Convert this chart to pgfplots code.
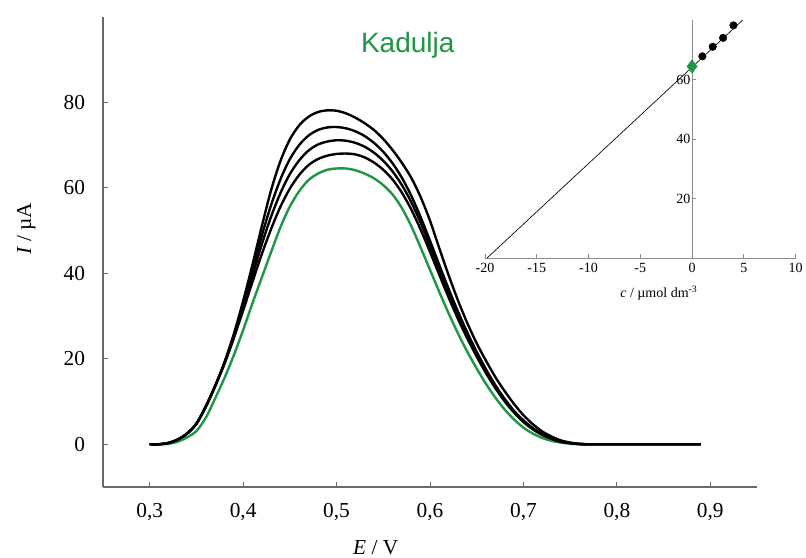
\documentclass[border=0pt]{standalone}
\usepackage{pgfplots}
\pgfplotsset{compat=1.18}
\usepackage{pgfplotstable}
\usepackage{fontspec}
\setmainfont{Liberation Serif}
\newfontfamily\arialfont{Liberation Sans}
\definecolor{kgreen}{RGB}{30,150,70}
\definecolor{axgray}{RGB}{105,105,105}
\definecolor{ingray}{RGB}{140,140,140}

% E / V, green curve (sample) and four additions
\pgfplotstableread{
E     G     B1    B2    B3    B4
0.30  0     0     0     0     0
0.31  0     0     0     0     0
0.32  0.1   0.3   0.3   0.3   0.3
0.33  0.6   1.1   1.1   1.1   1.1
0.34  1.6   2.5   2.5   2.5   2.5
0.35  3.1   4.8   4.8   4.8   4.8
0.36  6.2   8.8   8.8   8.8   8.8
0.37  10.7  13.6  13.6  13.6  13.6
0.38  15.5  18.9  18.9  19.0  19.2
0.39  20.8  24.9  24.9  25.2  25.8
0.40  26.7  31.3  32    32.7  33.5
0.41  33    38    39.5  40.8  42
0.42  39    44.5  46.8  48.8  51
0.43  45    50.4  53.3  56    59.5
0.44  50.8  55.6  58.8  62    66.3
0.45  55.6  59.8  63.2  66.7  71.3
0.46  59.2  63    66.4  70    74.6
0.47  61.8  65.3  68.7  72.2  76.6
0.48  63.3  66.7  70.1  73.5  77.7
0.49  64.2  67.5  70.8  74.1  78.1
0.50  64.5  67.9  71.1  74.2  78.0
0.51  64.5  68.0  71.0  73.9  77.4
0.52  64.1  67.8  70.5  73.2  76.4
0.53  63.3  67.1  69.6  72.1  75.1
0.54  62.2  65.9  68.2  70.5  73.5
0.55  60.6  64.2  66.3  68.4  71.4
0.56  58.4  61.9  63.8  65.7  68.8
0.57  55.2  58.8  60.6  62.3  65.8
0.58  51.0  54.9  56.6  58.1  62.3
0.59  46.0  50.2  51.8  53.1  57.8
0.60  40.8  45    46.4  47.6  52.3
0.61  35.6  39.6  40.9  41.9  45.8
0.62  30.6  34.3  35.4  36.3  39.5
0.63  25.9  29.3  30.2  31    33.6
0.64  21.6  24.7  25.4  26.1  28.3
0.65  17.7  20.5  21.1  21.6  23.6
0.66  14.1  16.6  17.1  17.5  19.5
0.67  10.9  13.1  13.5  13.8  15.7
0.68  8.1   10    10.3  10.6  12.4
0.69  5.8   7.4   7.6   7.8   9.4
0.70  3.9   5.2   5.4   5.6   6.8
0.71  2.5   3.5   3.6   3.8   4.7
0.72  1.5   2.2   2.3   2.4   3.0
0.73  0.8   1.3   1.3   1.4   1.8
0.74  0.4   0.6   0.6   0.7   0.9
0.75  0.15  0.25  0.25  0.3   0.4
0.76  0     0.05  0.05  0.05  0.1
0.77  0     0     0     0     0
0.80  0     0     0     0     0
0.85  0     0     0     0     0
0.89  0     0     0     0     0
}\voltammo

\begin{document}
\begin{tikzpicture}
\path[use as bounding box] (0,0) rectangle (604.5pt,417.75pt);

\begin{axis}[
  at={(77.25pt,52.5pt)}, anchor=south west,
  scale only axis,
  width=490.5pt, height=352.7pt,
  xmin=0.25, xmax=0.95,
  ymin=-10, ymax=100,
  axis x line=bottom, axis y line=left,
  axis line style={axgray, line width=1pt, -},
  tick align=inside,
  major tick length=4pt,
  tick style={axgray, line width=0.6pt},
  xtick={0.3,0.4,...,0.9},
  ytick={0,20,40,60,80},
  /pgf/number format/assume math mode=true,
  ticklabel style={font=\fontsize{16}{18}\selectfont},
  xticklabel style={yshift=-9pt, /pgf/number format/.cd, fixed, fixed zerofill, precision=1, use comma},
  yticklabel style={xshift=-10pt},
  xlabel={\textit{E} / V},
  ylabel={\textit{I} / µA},
  label style={font=\fontsize{16}{18}\selectfont},
  xlabel style={at={(axis description cs:0.417,-0.128)}, anchor=center},
  ylabel style={at={(axis description cs:-0.117,0.549)}, anchor=center},
  title={Kadulja},
  title style={at={(axis description cs:0.466,0.951)}, anchor=center, yshift=-10pt,
    font=\arialfont\fontsize{21}{24}\selectfont, text=kgreen},
  clip=false,
]
\addplot[kgreen, line width=1.8pt, smooth] table[x=E, y=G] {\voltammo};
\addplot[black, line width=1.8pt, smooth] table[x=E, y=B1] {\voltammo};
\addplot[black, line width=1.8pt, smooth] table[x=E, y=B2] {\voltammo};
\addplot[black, line width=1.8pt, smooth] table[x=E, y=B3] {\voltammo};
\addplot[black, line width=1.8pt, smooth] table[x=E, y=B4] {\voltammo};
\end{axis}

% inset: standard addition
\begin{axis}[
  at={(363.75pt,224.25pt)}, anchor=south west,
  scale only axis,
  width=232.9pt, height=178.5pt,
  xmin=-20, xmax=10,
  ymin=0, ymax=80,
  axis x line=bottom, axis y line=middle,
  hide obscured x ticks=false, hide obscured y ticks=false,
  axis line style={ingray, line width=0.7pt, -},
  tick align=inside,
  major tick length=3pt,
  tick style={ingray, line width=0.5pt},
  xtick={-20,-15,...,10},
  ytick={20,40,60},
  /pgf/number format/assume math mode=true,
  ticklabel style={font=\fontsize{10.5}{12}\selectfont, inner sep=1pt},
  xticklabel style={yshift=-2.5pt},
  xlabel={\textit{c} / µmol dm\textsuperscript{-3}},
  xlabel style={font=\fontsize{10.5}{12}\selectfont, at={(axis description cs:0.56,-0.147)}, anchor=center},
  clip=false,
]
\addplot[black, line width=0.5pt] coordinates {(-19.8,0) (4.9,80)};
\addplot[only marks, mark=*, mark size=2.8pt, black] coordinates {(1,67.8) (2,71) (3,74) (4,78.2)};
\addplot[only marks, mark=diamond*, mark size=5pt, kgreen] coordinates {(0,64.4)};
\end{axis}
\end{tikzpicture}
\end{document}
